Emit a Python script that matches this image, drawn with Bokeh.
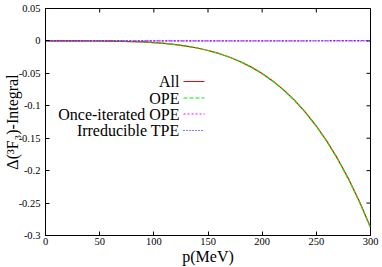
import math
from bokeh.plotting import figure
from bokeh.models import FixedTicker, Range1d, Label, Arrow
from bokeh.embed import file_html
from bokeh.resources import INLINE

# ---- data ----
p_mev = [0, 10, 20, 30, 40, 50, 60, 70, 80, 90, 100, 110, 120, 130, 140, 150,
         160, 170, 180, 190, 200, 210, 220, 230, 240, 250, 260, 270, 280, 290, 300]
ope = [0.0, 0.0, 0.0, 0.0, -0.0001, -0.0001, -0.0003, -0.0006, -0.0010, -0.0016,
       -0.0026, -0.0039, -0.0056, -0.0079, -0.0109, -0.0147, -0.0193, -0.0251,
       -0.0320, -0.0404, -0.0504, -0.0621, -0.0759, -0.0919, -0.1103, -0.1315,
       -0.1556, -0.1831, -0.2140, -0.2490, -0.2880]
once_iterated = [0.0, 0.0, 0.0, 0.0, 0.0, 0.0, 0.0, 0.0, 0.0, 0.0, 0.0, 0.0, 0.0,
                 0.0, 0.0, 0.0, 0.0, 0.0, 0.0, 0.0, 0.0001, 0.0001, 0.0001, 0.0002,
                 0.0002, 0.0003, 0.0003, 0.0004, 0.0005, 0.0006, 0.0007]
irreducible = [0.0, 0.0, 0.0, 0.0, 0.0, 0.0, 0.0, 0.0, 0.0, 0.0, 0.0, 0.0, 0.0,
               0.0, 0.0, 0.0, 0.0, 0.0, 0.0, 0.0, 0.0, 0.0, 0.0, 0.0, 0.0, 0.0,
               0.0, 0.0, 0.0, 0.0, 0.0]
all_terms = [0.0, 0.0, 0.0, 0.0, -0.0001, -0.0001, -0.0003, -0.0006, -0.0010, -0.0016,
             -0.0026, -0.0039, -0.0056, -0.0079, -0.0109, -0.0147, -0.0193, -0.0251,
             -0.0320, -0.0404, -0.0503, -0.0620, -0.0758, -0.0917, -0.1101, -0.1312,
             -0.1553, -0.1827, -0.2135, -0.2484, -0.2873]

series_names = ["All", "OPE", "Once-iterated OPE", "Irreducible TPE"]
x_ticks = [0, 50, 100, 150, 200, 250, 300]
y_ticks = [0.05, 0.0, -0.05, -0.1, -0.15, -0.2, -0.25, -0.3]
y_tick_labels = ["0.05", "0", "-0.05", "-0.1", "-0.15", "-0.2", "-0.25", "-0.3"]
x_title = "p(MeV)"
y_title = "\u0394(\u00b3F\u2083)-Integral"

FONT = "Liberation Serif"

p = figure(width=382, height=267, output_backend="svg", toolbar_location=None,
           x_range=Range1d(x_ticks[0], x_ticks[-1]),
           y_range=Range1d(y_ticks[-1], y_ticks[0]),
           min_border_left=44, min_border_right=12, min_border_top=8,
           min_border_bottom=31, margin=(0, 0, 0, 0))
p.background_fill_color = "white"
p.border_fill_color = "white"
p.outline_line_color = "black"
p.outline_line_width = 1
p.xgrid.visible = False
p.ygrid.visible = False

for ax in (p.xaxis[0], p.yaxis[0]):
    ax.axis_line_color = "black"
    ax.major_tick_line_color = "black"
    ax.major_tick_in = 4
    ax.major_tick_out = 0
    ax.minor_tick_in = 0
    ax.minor_tick_out = 0
    ax.major_label_text_font = FONT
    ax.major_label_text_font_size = "10.5px"
    ax.major_label_text_color = "black"
    ax.axis_label_text_font = FONT
    ax.axis_label_text_font_size = "16px"
    ax.axis_label_text_font_style = "normal"
    ax.axis_label_text_color = "black"
    ax.axis_label_standoff = 0

p.xaxis.ticker = FixedTicker(ticks=x_ticks)
p.yaxis.ticker = FixedTicker(ticks=y_ticks)
p.yaxis.major_label_overrides = {t: s for t, s in zip(y_ticks, y_tick_labels)}
p.xaxis.major_label_standoff = 2
p.yaxis.major_label_standoff = 5
p.yaxis.axis_label_standoff = -5
p.xaxis.axis_label = x_title
p.yaxis.axis_label = y_title

# mirrored ticks on the top and right borders (half of each dash is clipped by the frame)
p.scatter(x_ticks, [y_ticks[0]] * len(x_ticks), marker="dash", angle=math.pi / 2,
          size=8, line_color="black", line_width=1)
p.scatter([x_ticks[-1]] * len(y_ticks), y_ticks, marker="dash",
          size=8, line_color="black", line_width=1)

# ---- curves ----
styles = [
    dict(color="#ff0000", dash="solid"),
    dict(color="#00ee00", dash="4 2"),
    dict(color="#ff00ff", dash="2 2"),
    dict(color="#0000ff", dash="1 2"),
]
series = [all_terms, ope, once_iterated, irreducible]
for ys, st in zip(series, styles):
    p.line(p_mev, ys, line_color=st["color"], line_dash=st["dash"], line_width=1.2)

# ---- legend (text on the left, sample on the right) ----
leg_y = [154, 137.5, 121.5, 105]
for name, st, yy in zip(series_names, styles, leg_y):
    p.add_layout(Label(x=134, y=yy, x_units="screen", y_units="screen", text=name,
                       text_align="right", text_baseline="middle",
                       text_font=FONT, text_font_size="16px", text_color="black"))
    p.add_layout(Arrow(x_start=138, y_start=yy, x_end=159, y_end=yy,
                       start_units="screen", end_units="screen", start=None, end=None,
                       line_color=st["color"], line_dash=st["dash"], line_width=1.2))

open("out.html", "w").write(file_html(p, INLINE))
